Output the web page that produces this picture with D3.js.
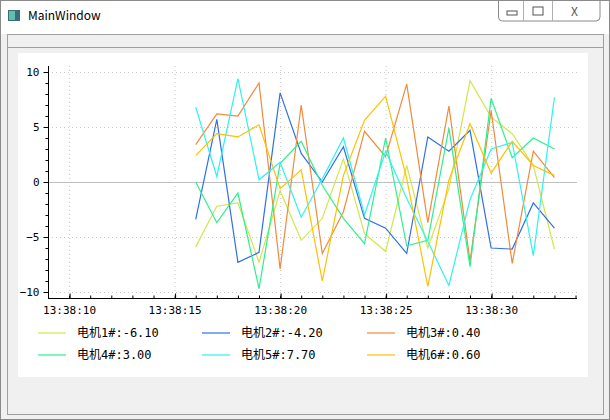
<!doctype html>
<html>
<head>
<meta charset="utf-8">
<title>MainWindow</title>
<script src="https://d3js.org/d3.v7.min.js"></script>
<style>
  html, body { margin: 0; width: 610px; height: 420px; overflow: hidden; background: #f0f0f0; }
  svg { display: block; font-family: "Noto Sans CJK SC", "DejaVu Sans", sans-serif; }
  .mono { font-family: "DejaVu Sans Mono", "Noto Sans CJK SC", monospace; }
</style>
</head>
<body>
<svg id="chart" width="610" height="420"></svg>
<script>
// seconds after 13:38:00, one sample per second
var seconds = [16,17,18,19,20,21,22,23,24,25,26,27,28,29,30,31,32,33];
var names = ["电机1#", "电机2#", "电机3#", "电机4#", "电机5#", "电机6#"];
var colors = ["#d2e64a", "#2f6fe8", "#f08a3c", "#2cf08c", "#2ef2f2", "#ffc000"];
var motor1 = [-5.9,-2.2,-1.9,-7.3,-0.8,-5.3,-3.3,2.1,-4.7,-6.3,1.5,-6.0,-0.6,9.2,5.9,4.4,1.5,-6.1];
var motor2 = [-3.4,5.7,-7.3,-6.4,8.1,2.6,0.0,3.2,-3.3,-4.2,-6.5,4.1,2.8,4.7,-6.0,-6.1,-1.9,-4.2];
var motor3 = [3.4,6.2,6.0,9.0,-7.9,7.0,-6.5,-2.7,4.6,2.3,8.9,-3.7,6.9,-7.2,6.5,-7.4,2.8,0.4];
var motor4 = [0.0,-3.7,-1.0,-9.7,1.7,3.7,-0.3,-3.3,-5.6,4.0,-5.8,-5.3,4.9,-7.7,7.6,2.2,4.0,3.0];
var motor5 = [6.8,0.5,9.4,0.2,1.8,-3.2,0.3,4.0,-3.0,2.8,-1.5,-5.4,-9.4,-1.6,3.0,3.6,-6.7,7.7];
var motor6 = [2.4,4.4,4.1,5.2,-0.6,1.1,-9.0,0.6,5.6,7.8,0.3,-9.5,0.2,5.3,0.8,3.7,1.5,0.6];
var series = [motor1, motor2, motor3, motor4, motor5, motor6];
var xMajor = [10, 15, 20, 25, 30];
var yMajor = [-10, -5, 0, 5, 10];

var svg = d3.select("#chart");

// window chrome
svg.append("rect").attr("x", 0.5).attr("y", 0.5).attr("width", 609).attr("height", 419)
  .attr("fill", "#f0f0f0").attr("stroke", "#8a8a8a");
svg.append("rect").attr("x", 1).attr("y", 1).attr("width", 608).attr("height", 33).attr("fill", "#fff");
svg.append("rect").attr("x", 8).attr("y", 10).attr("width", 12).attr("height", 11).attr("fill", "#3b6a78");
svg.append("rect").attr("x", 9).attr("y", 11).attr("width", 6).attr("height", 9).attr("fill", "#5fc0b0");
svg.append("text").attr("x", 28).attr("y", 20).attr("font-size", 12).text("MainWindow");
var btn = svg.append("g");
btn.append("path").attr("d", "M498.5,1 V17 a4,4 0 0 0 4,4 H596 a4,4 0 0 0 4,-4 V1")
  .attr("fill", "#fff").attr("stroke", "#8a8a8a");
btn.append("line").attr("x1", 523.5).attr("x2", 523.5).attr("y1", 1).attr("y2", 21).attr("stroke", "#b0b0b0");
btn.append("line").attr("x1", 552.5).attr("x2", 552.5).attr("y1", 1).attr("y2", 21).attr("stroke", "#b0b0b0");
btn.append("rect").attr("x", 507).attr("y", 11).attr("width", 10).attr("height", 4).attr("fill", "none").attr("stroke", "#555");
btn.append("rect").attr("x", 533).attr("y", 7).attr("width", 10).attr("height", 8).attr("fill", "none").attr("stroke", "#555");
btn.append("text").attr("x", 571).attr("y", 16).attr("font-size", 12).attr("fill", "#555").text("X");
svg.append("rect").attr("x", 7.5).attr("y", 34.5).attr("width", 596).attr("height", 380)
  .attr("fill", "#f0f0f0").attr("stroke", "#a0a0a0");
svg.append("line").attr("x1", 8).attr("x2", 603).attr("y1", 47.5).attr("y2", 47.5).attr("stroke", "#a0a0a0");
svg.append("rect").attr("x", 18).attr("y", 53).attr("width", 570).attr("height", 324).attr("fill", "#fff");

// plot
var x = d3.scaleLinear().domain([9, 34.07]).range([48, 577]);
var y = d3.scaleLinear().domain([-10, 10]).range([292, 72]);
var axisY = 298;

var grid = svg.append("g").attr("stroke", "#c8c8c8").attr("stroke-dasharray", "1,3");
grid.selectAll(".gx").data(xMajor).join("line")
  .attr("x1", d => x(d) + 0.5).attr("x2", d => x(d) + 0.5).attr("y1", 66).attr("y2", axisY);
grid.selectAll(".gy").data(yMajor.filter(d => d !== 0)).join("line")
  .attr("x1", 48).attr("x2", 577).attr("y1", d => y(d) + 0.5).attr("y2", d => y(d) + 0.5);
svg.append("line").attr("x1", 48).attr("x2", 577).attr("y1", y(0) + 0.5).attr("y2", y(0) + 0.5)
  .attr("stroke", "#c0c0c0");

var line = d3.line().x((d, i) => x(seconds[i])).y(d => y(d));
svg.append("g").selectAll("path").data(series).join("path")
  .attr("d", line).attr("fill", "none").attr("stroke-width", 1.2)
  .attr("stroke", (d, i) => colors[i]);

// axes
var yAxis = d3.axisLeft(y).tickValues(yMajor).tickSize(5).tickPadding(4);
var gy = svg.append("g").attr("transform", "translate(48.5,0)").call(yAxis);
gy.select(".domain").attr("d", "M0,66V" + axisY);
gy.append("g").selectAll("line").data(d3.range(-10, 11)).join("line")
  .attr("x1", -3).attr("x2", 0).attr("y1", d => y(d) + 0.5).attr("y2", d => y(d) + 0.5).attr("stroke", "#000");

var fmt = d => "13:38:" + d3.format("02")(d);
var xAxis = d3.axisBottom(x).tickValues(xMajor).tickFormat(fmt).tickSize(5).tickPadding(3);
var gx = svg.append("g").attr("transform", "translate(0," + (axisY + 0.5) + ")").call(xAxis);
gx.select(".domain").attr("d", "M48,0H577");
gx.selectAll(".tick line").attr("y2", -5).attr("transform", "translate(0.5,0)");
gx.append("g").selectAll("line").data(d3.range(9, 35)).join("line")
  .attr("x1", d => x(d) + 0.5).attr("x2", d => x(d) + 0.5).attr("y1", 0).attr("y2", -3).attr("stroke", "#000");
svg.selectAll(".tick text").attr("class", "mono").attr("font-size", 11).attr("fill", "#000");

// legend
var legend = svg.append("g").selectAll("g").data(names).join("g")
  .attr("transform", (d, i) => "translate(" + [38, 202, 367][i % 3] + "," + [333, 355][Math.floor(i / 3)] + ")");
legend.append("line").attr("x1", 0).attr("x2", 28).attr("stroke", (d, i) => colors[i]).attr("stroke-width", 1.2);
legend.append("text").attr("class", "mono").attr("x", 39).attr("y", 4).attr("font-size", 12)
  .text((d, i) => d + ":" + series[i][series[i].length - 1].toFixed(2));
</script>
</body>
</html>
